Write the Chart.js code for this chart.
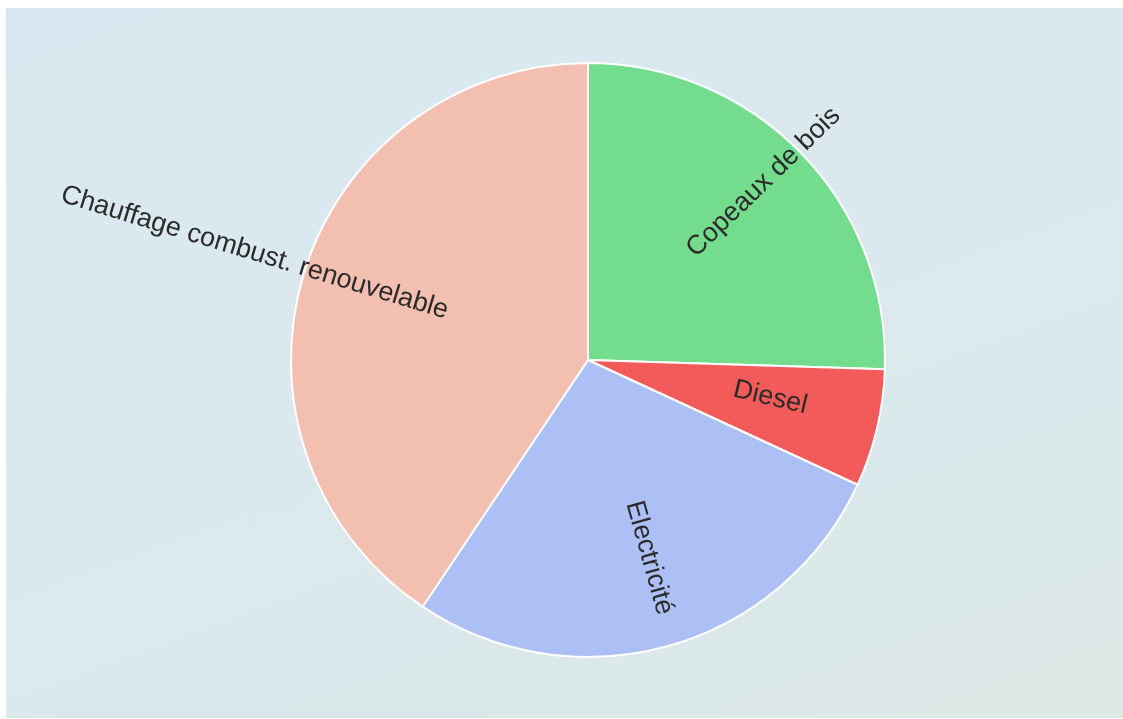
<!DOCTYPE html>
<html>
<head>
<meta charset="utf-8">
<script src="https://cdn.jsdelivr.net/npm/chart.js@4/dist/chart.umd.min.js"></script>
<style>
  html, body { margin: 0; padding: 0; background: #ffffff; }
  #wrap {
    position: absolute; left: 6px; top: 8px; width: 1117px; height: 710px;
    background: linear-gradient(160deg, #d9e8f0 0%, #dbe8ee 50%, #dce9e6 100%);
  }
  canvas { display: block; }
</style>
</head>
<body>
<div id="wrap"><canvas id="c" width="1117" height="710"></canvas></div>
<script>
const categories = ["Copeaux de bois", "Diesel", "Electricité", "Chauffage combust. renouvelable"];
const shares = [25.5, 6.4, 27.5, 40.6];
const sliceColors = ["#74dd8d", "#f35a5a", "#adc0f5", "#f2bfb1"];

const radialLabels = {
  id: 'radialLabels',
  afterDatasetsDraw(chart) {
    const ctx = chart.ctx;
    const meta = chart.getDatasetMeta(0);
    ctx.save();
    ctx.font = '27px "Liberation Sans", Arial, sans-serif';
    ctx.fillStyle = '#2b2b2b';
    ctx.textBaseline = 'alphabetic';
    meta.data.forEach((arc, i) => {
      const p = arc.getProps(['x', 'y', 'startAngle', 'endAngle', 'outerRadius'], true);
      const a = (p.startAngle + p.endAngle) / 2;
      const r = p.outerRadius * 0.5;
      const x = p.x + Math.cos(a) * r;
      const y = p.y + Math.sin(a) * r;
      ctx.save();
      ctx.translate(x, y);
      if (Math.cos(a) >= 0) {
        ctx.rotate(a);
        ctx.textAlign = 'left';
      } else {
        ctx.rotate(a + Math.PI);
        ctx.textAlign = 'right';
      }
      ctx.fillText(categories[i], 0, 2);
      ctx.restore();
    });
    ctx.restore();
  }
};

new Chart(document.getElementById('c'), {
  type: 'pie',
  data: {
    labels: categories,
    datasets: [{
      data: shares,
      backgroundColor: sliceColors,
      borderColor: '#ffffff',
      borderWidth: 2
    }]
  },
  options: {
    responsive: false,
    animation: false,
    radius: 297,
    layout: { padding: { left: 47, right: 0, top: 0, bottom: 6 } },
    plugins: {
      legend: { display: false },
      tooltip: { enabled: false }
    }
  },
  plugins: [radialLabels]
});
</script>
</body>
</html>
